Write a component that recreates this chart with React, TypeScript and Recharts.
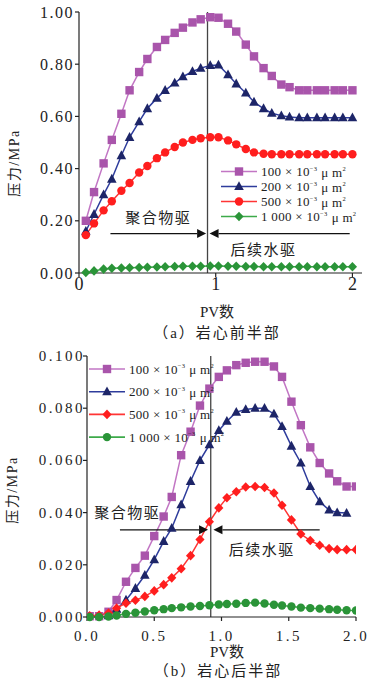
import React from "react";
import { LineChart, Line, XAxis, YAxis, ReferenceLine, ReferenceDot } from "recharts";

// (a) 岩心前半部
const pvFront = [0.05, 0.11, 0.18, 0.24, 0.31, 0.37, 0.44, 0.5, 0.57, 0.63, 0.7, 0.76, 0.83, 0.89, 0.96, 1.02, 1.09, 1.15, 1.22, 1.28, 1.35, 1.41, 1.48, 1.54, 1.61, 1.67, 1.74, 1.8, 1.87, 1.93, 2.0];
const front100 = [0.2, 0.31, 0.42, 0.51, 0.61, 0.7, 0.77, 0.82, 0.866, 0.893, 0.92, 0.94, 0.96, 0.972, 0.98, 0.978, 0.955, 0.925, 0.875, 0.83, 0.785, 0.755, 0.722, 0.712, 0.7, 0.7, 0.7, 0.7, 0.7, 0.7, 0.7];
const front200 = [0.16, 0.225, 0.3, 0.36, 0.45, 0.52, 0.58, 0.63, 0.67, 0.7, 0.728, 0.752, 0.772, 0.785, 0.795, 0.797, 0.76, 0.725, 0.69, 0.655, 0.63, 0.612, 0.603, 0.598, 0.595, 0.595, 0.595, 0.595, 0.595, 0.595, 0.595];
const front500 = [0.145, 0.19, 0.24, 0.275, 0.315, 0.345, 0.385, 0.41, 0.44, 0.462, 0.483, 0.5, 0.51, 0.516, 0.52, 0.52, 0.508, 0.493, 0.475, 0.462, 0.457, 0.455, 0.455, 0.455, 0.455, 0.455, 0.455, 0.455, 0.455, 0.455, 0.455];
const front1000 = [0.002, 0.008, 0.015, 0.018, 0.019, 0.02, 0.021, 0.022, 0.023, 0.024, 0.025, 0.026, 0.026, 0.026, 0.027, 0.027, 0.026, 0.026, 0.025, 0.025, 0.024, 0.024, 0.024, 0.024, 0.024, 0.024, 0.024, 0.024, 0.024, 0.024, 0.024];

// (b) 岩心后半部
const pvBack = [0.02, 0.09, 0.16, 0.22, 0.29, 0.36, 0.43, 0.5, 0.57, 0.63, 0.7, 0.77, 0.84, 0.91, 0.98, 1.04, 1.11, 1.18, 1.25, 1.32, 1.39, 1.45, 1.52, 1.59, 1.66, 1.73, 1.8, 1.86, 1.93, 2.0];
const back100 = [0.0003, 0.0003, 0.002, 0.0065, 0.0135, 0.0188, 0.0235, 0.031, 0.0385, 0.046, 0.062, 0.071, 0.081, 0.0875, 0.092, 0.0945, 0.0965, 0.0974, 0.0978, 0.0978, 0.096, 0.092, 0.0825, 0.0735, 0.065, 0.059, 0.055, 0.052, 0.05, 0.05];
const back200 = [null, null, 0.0005, 0.003, 0.0065, 0.011, 0.016, 0.022, 0.029, 0.034, 0.043, 0.052, 0.06, 0.066, 0.0715, 0.075, 0.0785, 0.0795, 0.08, 0.08, 0.0778, 0.073, 0.0655, 0.059, 0.05, 0.0442, 0.041, 0.04, 0.0398, null];
const back500 = [0.0005, 0.0007, 0.0015, 0.0034, 0.0053, 0.0064, 0.0079, 0.01, 0.0124, 0.015, 0.0185, 0.0235, 0.0297, 0.0365, 0.0418, 0.0457, 0.048, 0.0498, 0.05, 0.0496, 0.0475, 0.0428, 0.0372, 0.0318, 0.0293, 0.0275, 0.0262, 0.0258, 0.0258, 0.0258];
const back1000 = [0, 0, 0.0002, 0.0006, 0.0012, 0.0016, 0.0021, 0.0026, 0.003, 0.0034, 0.0037, 0.004, 0.0042, 0.0045, 0.0048, 0.005, 0.0051, 0.0054, 0.0055, 0.0052, 0.0047, 0.0044, 0.004, 0.0036, 0.0034, 0.0032, 0.003, 0.0028, 0.0026, 0.0025];

const legendNames = ["100", "200", "500", "1 000"];
const yTicksFront = [0, 0.2, 0.4, 0.6, 0.8, 1.0];
const xTicksFront = [0, 1, 2];
const yTicksBack = [0, 0.02, 0.04, 0.06, 0.08, 0.1];
const xTicksBack = [0, 0.5, 1, 1.5, 2];

const switchFront = 0.94;
const switchBack = 0.92;

const PURPLE = "#A955AB";
const BLUE = "#1D2568";
const RED = "#FF1E1E";
const GREEN = "#2A9438";
const lineColors: Record<string, string> = { [PURPLE]: "#C276C4", [BLUE]: "#2E3C9C", [RED]: "#FF3535", [GREEN]: "#3DAA4A" };

const serif = "'Liberation Serif', 'DejaVu Serif', serif";
const cjk = "'Liberation Serif', 'Noto Sans CJK SC', sans-serif";

type Shape = "square" | "triangle" | "circle" | "diamond";

function Marker({ cx, cy, shape, fill }: { cx: number; cy: number; shape: Shape; fill: string }) {
  if (shape === "square") return <rect x={cx - 4.2} y={cy - 4.2} width={8.4} height={8.4} fill={fill} />;
  if (shape === "triangle")
    return <polygon points={`${cx},${cy - 5.2} ${cx + 4.8},${cy + 3.6} ${cx - 4.8},${cy + 3.6}`} fill={fill} />;
  if (shape === "circle") return <circle cx={cx} cy={cy} r={4.2} fill={fill} />;
  return <polygon points={`${cx},${cy - 4.8} ${cx + 4.6},${cy} ${cx},${cy + 4.8} ${cx - 4.6},${cy}`} fill={fill} />;
}

const frontSeries = [
  { key: "k100", values: front100, color: PURPLE, shape: "square" as Shape },
  { key: "k200", values: front200, color: BLUE, shape: "triangle" as Shape },
  { key: "k500", values: front500, color: RED, shape: "circle" as Shape },
  { key: "k1000", values: front1000, color: GREEN, shape: "diamond" as Shape },
];
const backSeries = [
  { key: "k100", values: back100, color: PURPLE, shape: "square" as Shape },
  { key: "k200", values: back200, color: BLUE, shape: "triangle" as Shape },
  { key: "k500", values: back500, color: RED, shape: "diamond" as Shape },
  { key: "k1000", values: back1000, color: GREEN, shape: "circle" as Shape },
];

const dataFront = pvFront.map((pv, i) => {
  const row: any = { pv };
  frontSeries.forEach((s) => (row[s.key] = s.values[i]));
  return row;
});
const dataBack = pvBack.map((pv, i) => {
  const row: any = { pv };
  backSeries.forEach((s) => (row[s.key] = s.values[i]));
  return row;
});

const makeYTick = (digits: number, size: number, ls: number) => (p: any) => (
  <text x={p.x} y={p.y} textAnchor="end" dominantBaseline="central" fontFamily={serif} fontSize={size} letterSpacing={ls} fill="#222">
    {Number(p.payload.value).toFixed(digits)}
  </text>
);
const makeXTick = (digits: number, size: number, ls: number) => (p: any) => (
  <text x={p.x} y={p.y} dy="0.71em" textAnchor="middle" fontFamily={serif} fontSize={size} letterSpacing={ls} fill="#222">
    {Number(p.payload.value).toFixed(digits)}
  </text>
);

const Arrow = (p: any) => {
  const { x1, y1, x2, y2 } = p;
  const d = Math.sign(x2 - x1);
  const hl = 9;
  const hw = 4.5;
  return (
    <g>
      <line x1={x1} y1={y1} x2={x2 - d * hl} y2={y2} stroke="#111" strokeWidth={1.2} />
      <polygon points={`${x2},${y2} ${x2 - d * hl},${y2 - hw} ${x2 - d * hl},${y2 + hw}`} fill="#111" />
    </g>
  );
};

const note = (text: string) => (p: any) => (
  <text x={p.cx} y={p.cy} textAnchor="middle" dominantBaseline="central" fontFamily={cjk} fontSize={15} letterSpacing={1.5} fill="#222">
    {text}
  </text>
);

function LegendBox({ x, y, gap, fontSize, series }: { x: number; y: number; gap: number; fontSize: number; series: typeof frontSeries }) {
  return (
    <svg width={378} height={681} style={{ position: "absolute", left: 0, top: 0, pointerEvents: "none" }}>
      {series.map((s, i) => {
        const cy = y + i * gap;
        return (
          <g key={s.key}>
            <line x1={x} x2={x + 36} y1={cy} y2={cy} stroke={lineColors[s.color]} strokeWidth={1.6} />
            <Marker cx={x + 18} cy={cy} shape={s.shape} fill={s.color} />
            <text x={x + 40} y={cy} dominantBaseline="central" fontFamily={serif} fontSize={fontSize} fill="#222" letterSpacing={0.3}>
              {legendNames[i]} × 10
              <tspan dy={-4} fontSize={fontSize * 0.5}>−3</tspan>
              <tspan dy={4} dx={4}>μ m</tspan>
              <tspan dy={-4} fontSize={fontSize * 0.5}>2</tspan>
            </text>
          </g>
        );
      })}
    </svg>
  );
}

const centered = (x: number, y: number, extra: React.CSSProperties = {}): React.CSSProperties => ({
  position: "absolute",
  left: x,
  top: y,
  transform: "translate(-50%, -50%)",
  whiteSpace: "nowrap",
  fontFamily: cjk,
  fontSize: 15,
  color: "#222",
  lineHeight: 1,
  ...extra,
});

export default function App() {
  return (
    <div style={{ position: "absolute", left: 0, top: 0, width: 378, height: 681, background: "#fff", overflow: "hidden" }}>
      {/* (a) */}
      <div style={{ position: "absolute", left: 0, top: 0 }}>
        <LineChart width={378} height={340} data={dataFront} margin={{ top: 12, right: 16, bottom: 0, left: 0 }}>
          <XAxis dataKey="pv" type="number" domain={[0, 2.07]} ticks={xTicksFront} tick={makeXTick(0, 18, 0)} tickSize={4} tickMargin={0}
            height={67} stroke="#222" strokeWidth={1.2} allowDataOverflow />
          <YAxis type="number" domain={[0, 1]} ticks={yTicksFront} tick={makeYTick(2, 16, 1.5)} tickSize={4} tickMargin={1}
            width={79} stroke="#222" strokeWidth={1.2} />
          {frontSeries.map((s) => (
            <Line key={s.key} dataKey={s.key} stroke={lineColors[s.color]} strokeWidth={1.5} isAnimationActive={false}
              dot={(p: any) => (p.cx == null || p.cy == null ? <g key={`${s.key}-${p.index}`} /> :
                <Marker key={`${s.key}-${p.index}`} cx={p.cx} cy={p.cy} shape={s.shape} fill={s.color} />)} />
          ))}
          <ReferenceLine x={switchFront} stroke="#444" strokeWidth={1.3} />
          <ReferenceLine segment={[{ x: 0.23, y: 0.151 }, { x: 0.93, y: 0.151 }]} shape={Arrow} />
          <ReferenceLine segment={[{ x: 1.98, y: 0.151 }, { x: 0.955, y: 0.151 }]} shape={Arrow} />
          <ReferenceDot x={0.58} y={0.21} r={1} shape={note("聚合物驱")} />
          <ReferenceDot x={1.35} y={0.087} r={1} shape={note("后续水驱")} />
        </LineChart>
        <LegendBox x={221} y={171.5} gap={15} fontSize={13} series={frontSeries} />
      </div>
      <div style={centered(15, 163, { transform: "translate(-50%, -50%) rotate(-90deg)", fontSize: 14, letterSpacing: 1.5 })}>压力/MPa</div>
      <div style={centered(217, 312)}>PV数</div>
      <div style={centered(217, 333, { letterSpacing: 2 })}>（a）岩心前半部</div>

      {/* (b) */}
      <div style={{ position: "absolute", left: 0, top: 340 }}>
        <LineChart width={378} height={341} data={dataBack} margin={{ top: 16, right: 22, bottom: 0, left: 0 }}>
          <XAxis dataKey="pv" type="number" domain={[0, 2]} ticks={xTicksBack} tick={makeXTick(1, 15, 2.5)} tickSize={4} tickMargin={9}
            height={64} stroke="#222" strokeWidth={1.2} allowDataOverflow />
          <YAxis type="number" domain={[0, 0.1]} ticks={yTicksBack} tick={makeYTick(3, 15, 2.5)} tickSize={4} tickMargin={-2}
            width={87} stroke="#222" strokeWidth={1.2} />
          {backSeries.map((s) => (
            <Line key={s.key} dataKey={s.key} stroke={lineColors[s.color]} strokeWidth={1.5} isAnimationActive={false}
              dot={(p: any) => (p.cx == null || p.cy == null || p.value == null ? <g key={`${s.key}-${p.index}`} /> :
                <Marker key={`${s.key}-${p.index}`} cx={p.cx} cy={p.cy} shape={s.shape} fill={s.color} />)} />
          ))}
          <ReferenceLine x={switchBack} stroke="#444" strokeWidth={1.3} />
          <ReferenceLine segment={[{ x: 0.245, y: 0.0334 }, { x: 0.9, y: 0.0334 }]} shape={Arrow} />
          <ReferenceLine segment={[{ x: 1.73, y: 0.0334 }, { x: 0.94, y: 0.0334 }]} shape={Arrow} />
          <ReferenceDot x={0.3} y={0.04} r={1} shape={note("聚合物驱")} />
          <ReferenceDot x={1.3} y={0.0258} r={1} shape={note("后续水驱")} />
        </LineChart>
        <LegendBox x={89} y={29} gap={22.7} fontSize={13} series={backSeries} />
      </div>
      <div style={centered(13, 490, { transform: "translate(-50%, -50%) rotate(-90deg)", fontSize: 14, letterSpacing: 1.5 })}>压力/MPa</div>
      <div style={centered(227, 652)}>PV数</div>
      <div style={centered(218, 671, { letterSpacing: 2 })}>（b）岩心后半部</div>
    </div>
  );
}
